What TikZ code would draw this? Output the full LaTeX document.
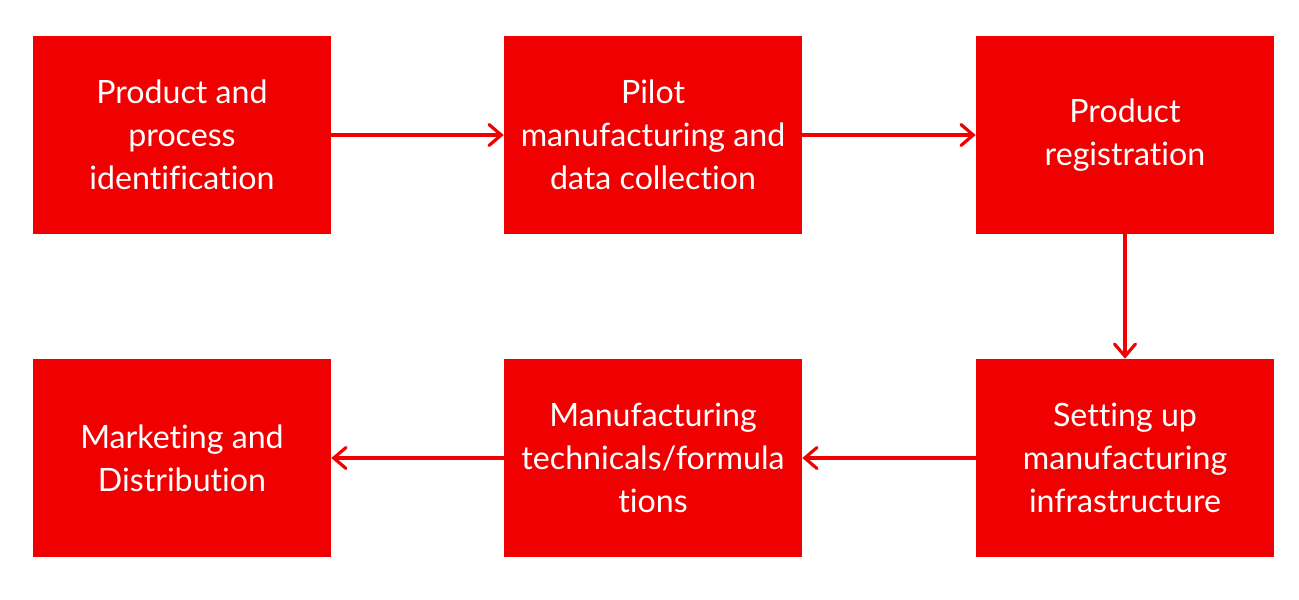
\documentclass[tikz,border=0pt]{standalone}
\usepackage{fontspec}
\setmainfont{Lato}[Ligatures={NoCommon}]
\usetikzlibrary{arrows.meta}
\definecolor{boxred}{RGB}{240,0,0}
\begin{document}
\begin{tikzpicture}[x=0.02cm, y=-0.02cm]

\tikzset{box/.style = {shape=rectangle, fill=boxred, text=white, minimum width=5.96cm, minimum height=3.96cm, align=center, inner sep=0pt, font=\fontsize{18.3}{24.4}\selectfont}}
\tikzset{edge/.style = {draw=boxred, line width=1.8pt, -{Straight Barb[length=7pt, width=12pt, line width=1.8pt, line cap=round]}}}
\useasboundingbox (0,0) rectangle (1299,599);
%boxes
\node[box] (ident) at (182,135) {Product and\\process\\identification};
\node[box] (pilot) at (653,135) {Pilot\\manufacturing and\\data collection};
\node[box] (regist) at (1125,135) {Product\\registration};
\node[box] (infra) at (1125,458) {Setting up\\manufacturing\\infrastructure};
\node[box] (techn) at (653,458) {Manufacturing\\technicals/formula\\tions};
\node[box] (market) at (182,458) {Marketing and\\Distribution};
%edges
\draw [edge] (ident) -- (pilot);
\draw [edge] (pilot) -- (regist);
\draw [edge] (regist) -- (infra);
\draw [edge] (infra) -- (techn);
\draw [edge] (techn) -- (market);

\end{tikzpicture}
\end{document}
